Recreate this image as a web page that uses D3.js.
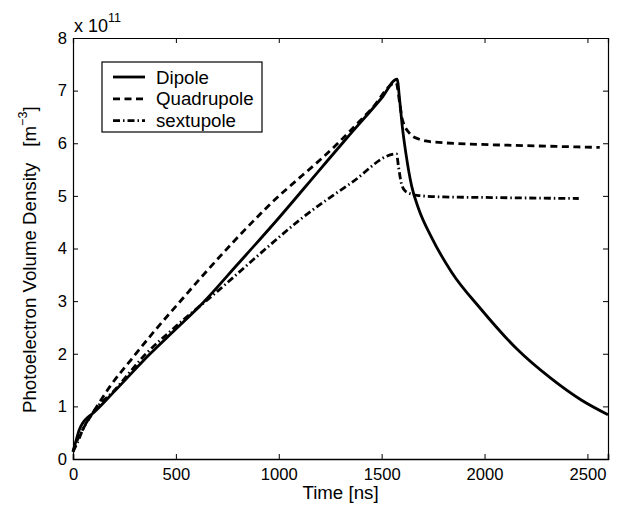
<!DOCTYPE html>
<html>
<head>
<meta charset="utf-8">
<script src="https://cdn.jsdelivr.net/npm/d3@7"></script>
<style>
  body { margin: 0; background: #fff; }
  svg { display: block; font-family: "Liberation Sans", Arial, sans-serif; }
</style>
</head>
<body>
<svg id="chart" width="618" height="506"></svg>
<script>
// datos (tiempo en ns, densidad en unidades de 1e11 m^-3)
const dipoleT = [0, 15, 30, 45, 60, 100, 200, 375, 500, 632, 800, 1000, 1200, 1331, 1500, 1575, 1588, 1600, 1620, 1645, 1680, 1740, 1840, 1980, 2160, 2320, 2470, 2600];
const dipoleV = [0.14, 0.35, 0.55, 0.67, 0.75, 0.88, 1.28, 2.0, 2.47, 2.97, 3.7, 4.58, 5.5, 6.1, 6.86, 7.22, 6.8, 6.33, 5.75, 5.2, 4.75, 4.23, 3.55, 2.86, 2.08, 1.54, 1.12, 0.84];

const quadT = [0, 20, 50, 100, 180, 285, 400, 511, 618, 942, 1282, 1450, 1570, 1590, 1600, 1640, 1680, 1720, 1800, 1963, 2140, 2350, 2560];
const quadV = [0.14, 0.35, 0.58, 0.9, 1.38, 1.9, 2.45, 2.95, 3.43, 4.78, 5.98, 6.65, 7.15, 6.7, 6.46, 6.17, 6.08, 6.04, 6.01, 5.98, 5.96, 5.94, 5.92];

const sextT = [0, 20, 50, 100, 200, 350, 500, 700, 900, 1104, 1350, 1572, 1582, 1595, 1615, 1672, 1800, 2000, 2200, 2458];
const sextV = [0.14, 0.3, 0.58, 0.9, 1.3, 1.98, 2.52, 3.18, 3.87, 4.55, 5.24, 5.8, 5.55, 5.25, 5.09, 5.01, 4.98, 4.97, 4.96, 4.95];

const xTicks = [0, 500, 1000, 1500, 2000, 2500];
const yTicks = [0, 1, 2, 3, 4, 5, 6, 7, 8];

const series = [
  { name: "Dipole", t: dipoleT, v: dipoleV, dash: null },
  { name: "Quadrupole", t: quadT, v: quadV, dash: "7,4.5" },
  { name: "sextupole", t: sextT, v: sextV, dash: "7,3,1.5,3" }
];

const svg = d3.select("#chart");
const margin = { left: 73, right: 10, top: 38, bottom: 47 };
const W = 618, H = 506;

const x = d3.scaleLinear().domain([0, 2600]).range([margin.left, W - margin.right]);
const y = d3.scaleLinear().domain([0, 8]).range([H - margin.bottom, margin.top]);

// lineas de datos
const line = d3.line().x(d => x(d[0])).y(d => y(d[1])).curve(d3.curveMonotoneX);

svg.append("g")
  .selectAll("path")
  .data(series)
  .join("path")
  .attr("d", s => line(s.t.map((t, i) => [t, s.v[i]])))
  .attr("fill", "none")
  .attr("stroke", "#000")
  .attr("stroke-width", 2.8)
  .attr("stroke-dasharray", s => s.dash);

// ejes con ticks hacia dentro (como MATLAB, caja cerrada)
const tickLen = 5;
const axB = svg.append("g").attr("transform", `translate(0,${y(0)})`)
  .call(d3.axisBottom(x).tickValues(xTicks).tickSize(-tickLen).tickPadding(9).tickFormat(d3.format("d")));
const axT = svg.append("g").attr("transform", `translate(0,${y(8)})`)
  .call(d3.axisTop(x).tickValues(xTicks).tickSize(-tickLen).tickFormat(""));
const axL = svg.append("g").attr("transform", `translate(${x(0)},0)`)
  .call(d3.axisLeft(y).tickValues(yTicks).tickSize(-tickLen).tickPadding(6).tickFormat(d3.format("d")));
const axR = svg.append("g").attr("transform", `translate(${x(2600)},0)`)
  .call(d3.axisRight(y).tickValues(yTicks).tickSize(-tickLen).tickFormat(""));

[axB, axT, axL, axR].forEach(a => {
  a.select(".domain").attr("stroke", "#000").attr("stroke-width", 1.2);
  a.selectAll(".tick line").attr("stroke", "#000");
  a.selectAll("text").attr("font-size", 16.6).attr("fill", "#000").attr("font-family", "Liberation Sans, Arial, sans-serif");
});
axB.select(".domain").attr("stroke-width", 1.6);

// multiplicador
const mult = svg.append("text").attr("x", 74).attr("y", 32).attr("font-size", 18);
mult.append("tspan").text("x 10");
mult.append("tspan").attr("dy", -10).attr("font-size", 12.5).text("11");

// etiquetas de ejes
svg.append("text")
  .attr("x", x(1300)).attr("y", 499)
  .attr("text-anchor", "middle")
  .attr("font-size", 18.7)
  .text("Time [ns]");

const yl = svg.append("text")
  .attr("transform", `translate(36,413) rotate(-90)`)
  .attr("font-size", 18.7);
yl.append("tspan").text("Photoelectron Volume Density");
yl.append("tspan").attr("dx", 16).text("[m");
yl.append("tspan").attr("dy", -9).attr("font-size", 12.5).text("−3");
yl.append("tspan").attr("dy", 9).text("]");

// leyenda
const leg = svg.append("g");
leg.append("rect")
  .attr("x", 102).attr("y", 62).attr("width", 160).attr("height", 70)
  .attr("fill", "#fff").attr("stroke", "#000").attr("stroke-width", 1.2);
const rows = leg.selectAll("g.row").data(series).join("g").attr("class", "row")
  .attr("transform", (d, i) => `translate(0,${77 + i * 21.8})`);
rows.append("line")
  .attr("x1", 113).attr("x2", 145).attr("y1", 0).attr("y2", 0)
  .attr("stroke", "#000").attr("stroke-width", 2.8)
  .attr("stroke-dasharray", d => d.dash);
rows.append("text")
  .attr("x", 156).attr("y", 6.5)
  .attr("font-size", 18.7)
  .text(d => d.name);
</script>
</body>
</html>
